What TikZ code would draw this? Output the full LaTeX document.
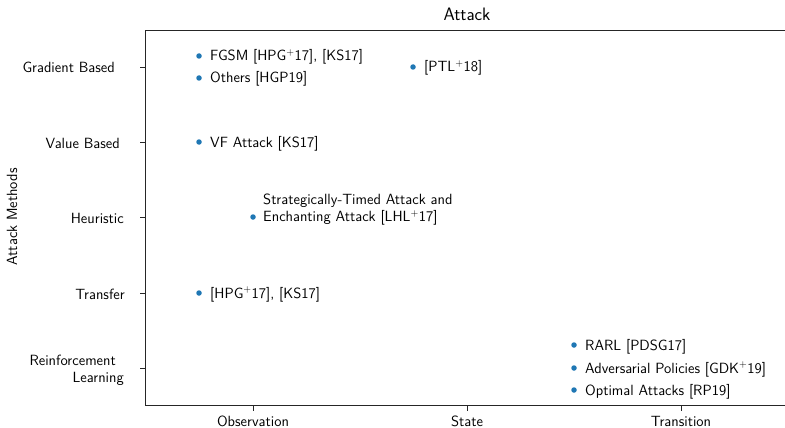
\documentclass[tikz,border=0pt]{standalone}
\usepackage{fontspec}
\renewcommand{\familydefault}{\sfdefault}
\begin{document}
\begin{tikzpicture}[x=1pt,y=-1pt,
  every node/.style={font=\fontsize{14.8}{17}\selectfont\sffamily, inner sep=0pt},
  axisline/.style={draw=black!85, line width=0.9pt},
  tickmark/.style={draw=black!85, line width=0.9pt},
  dot/.style={circle, fill=ptblue, minimum size=5.5pt, inner sep=0pt},
  lbl/.style={anchor=base west},
  ylbl/.style={anchor=base east},
]
\definecolor{ptblue}{HTML}{1F77B4}
\useasboundingbox (0,0) rectangle (785,428);

% axes frame (left, top, bottom)
\coordinate (tl) at (145,30);
\coordinate (bl) at (145,405);
\coordinate (tr) at (785,30);
\coordinate (br) at (785,405);
\draw[axisline] (tr) -- (tl) -- (bl) -- (br);

% title and axis label
\node[font=\fontsize{18}{20}\selectfont\sffamily, anchor=base] (title) at (467,21) {Attack};
\node[rotate=90] (ylab) at (12,217) {Attack Methods};

% y ticks
\foreach \y/\n in {67/g,142/v,217/h,293/t,368/r}{
  \coordinate (yt\n) at (145,\y);
  \coordinate (ytl\n) at (140,\y);
  \draw[tickmark] (yt\n) -- (ytl\n);
}
\node[ylbl] (lg) at (115,73) {Gradient Based};
\node[ylbl] (lv) at (120,148) {Value Based};
\node[ylbl] (lh) at (124,223) {Heuristic};
\node[ylbl] (lt) at (125,299) {Transfer};
\node[anchor=east, align=right] (lr) at (124,370) {Reinforcement\rule{8pt}{0pt}\\Learning};

% x ticks
\foreach \x/\n in {253/o,467/s,681/tr}{
  \coordinate (xt\n) at (\x,405);
  \coordinate (xtl\n) at (\x,411);
  \draw[tickmark] (xt\n) -- (xtl\n);
}
\node[anchor=base] (lo) at (253,426.5) {Observation};
\node[anchor=base] (ls) at (467,426.5) {State};
\node[anchor=base] (ltr) at (681,426.5) {Transition};

% data points
\node[dot] (p1) at (199,56) {};
\node[lbl] (t1) at (210,61) {FGSM [HPG$^+$17], [KS17]};
\node[dot] (p2) at (199,78) {};
\node[lbl] (t2) at (210,83) {Others [HGP19]};
\node[dot] (p3) at (413,67) {};
\node[lbl] (t3) at (424,72) {[PTL$^+$18]};
\node[dot] (p4) at (199,142) {};
\node[lbl] (t4) at (210,147) {VF Attack [KS17]};
\node[dot] (p5) at (253,217) {};
\node[anchor=west, align=left] (t5) at (263,210) {Strategically-Timed Attack and\\Enchanting Attack [LHL$^+$17]};
\node[dot] (p6) at (199,293) {};
\node[lbl] (t6) at (210,298) {[HPG$^+$17], [KS17]};
\node[dot] (p7) at (574,345) {};
\node[lbl] (t7) at (585,350) {RARL [PDSG17]};
\node[dot] (p8) at (574,368) {};
\node[lbl] (t8) at (585,373) {Adversarial Policies [GDK$^+$19]};
\node[dot] (p9) at (574,390) {};
\node[lbl] (t9) at (585,395) {Optimal Attacks [RP19]};
\end{tikzpicture}
\end{document}
